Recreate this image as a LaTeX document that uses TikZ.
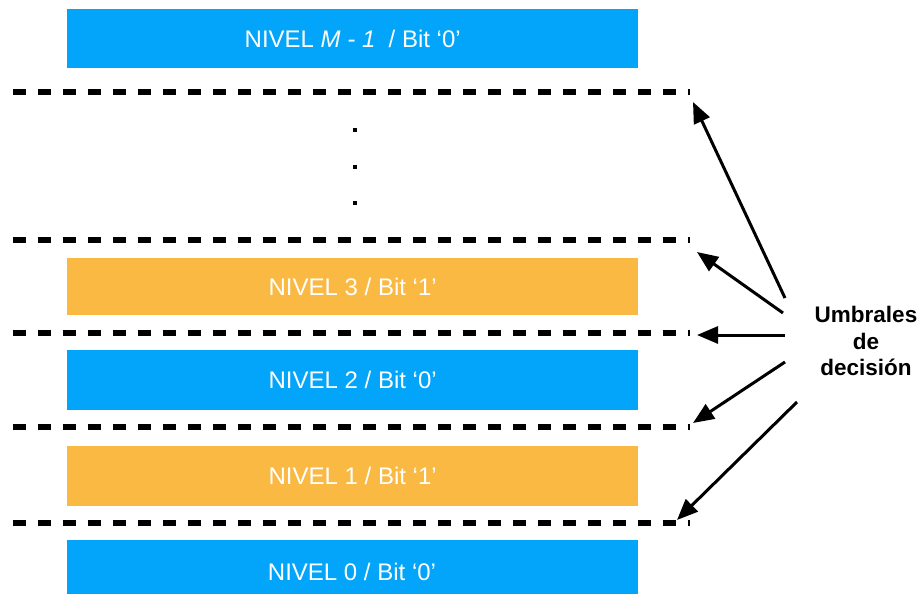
\documentclass[tikz,border=0pt]{standalone}
\usepackage{fontspec}
\setmainfont{Liberation Sans}
\usetikzlibrary{arrows.meta}
\definecolor{lvblue}{RGB}{2,165,250}
\definecolor{lvorange}{RGB}{249,185,66}
\begin{document}
\begin{tikzpicture}[x=1pt,y=-1pt,
  levelbox/.style={minimum width=571pt, inner sep=0pt, text=white,
    font=\fontsize{24}{28}\selectfont, anchor=north west},
  thr/.style={line width=6.5pt, dash pattern=on 13pt off 12pt},
  arr/.style={line width=3pt, -{Triangle[length=21pt,width=17pt]}},
  dotmark/.style={fill=black, minimum size=4.5pt, inner sep=0pt}]
\useasboundingbox (0,0) rectangle (922,594);

% level boxes
\node[levelbox, fill=lvblue, minimum height=59pt] (n4) at (67,9)
  {NIVEL \textit{M - 1}\ \ / Bit ‘0’};
\node[levelbox, fill=lvorange, minimum height=57pt] (n3) at (67,258)
  {NIVEL 3 / Bit ‘1’};
\node[levelbox, fill=lvblue, minimum height=60pt] (n2) at (67,350)
  {NIVEL 2 / Bit ‘0’};
\node[levelbox, fill=lvorange, minimum height=60pt] (n1) at (67,446)
  {NIVEL 1 / Bit ‘1’};
\node[levelbox, fill=lvblue, minimum height=60pt] (n0) at (67,540)
  {};
\node[text=white, font=\fontsize{24}{28}\selectfont] (n0t) at (352,572)
  {NIVEL 0 / Bit ‘0’};

% dots
\node[dotmark] (p1) at (355,130) {};
\node[dotmark] (p2) at (355,167) {};
\node[dotmark] (p3) at (355,203) {};

% threshold lines
\coordinate (d1s) at (12.5,92);  \coordinate (d1e) at (690,92);
\coordinate (d2s) at (12.5,240); \coordinate (d2e) at (690,240);
\coordinate (d3s) at (12.5,333); \coordinate (d3e) at (690,333);
\coordinate (d4s) at (12.5,427); \coordinate (d4e) at (690,427);
\coordinate (d5s) at (12.5,523); \coordinate (d5e) at (690,523);
\foreach \i in {1,...,5} \draw[thr] (d\i s) -- (d\i e);

% label
\node[font=\bfseries\fontsize{22.5}{26.5}\selectfont, align=center] (lab) at (866,341)
  {Umbrales\\de\\decisión};

% arrows
\coordinate (a1) at (785,298); \coordinate (t1) at (693,102);
\coordinate (a2) at (783,313); \coordinate (t2) at (697,252);
\coordinate (a3) at (785,335); \coordinate (t3) at (697,335);
\coordinate (a4) at (785,362); \coordinate (t4) at (693,423);
\coordinate (a5) at (797,402); \coordinate (t5) at (677,520);
\foreach \i in {1,...,5} \draw[arr] (a\i) -- (t\i);
\end{tikzpicture}
\end{document}
